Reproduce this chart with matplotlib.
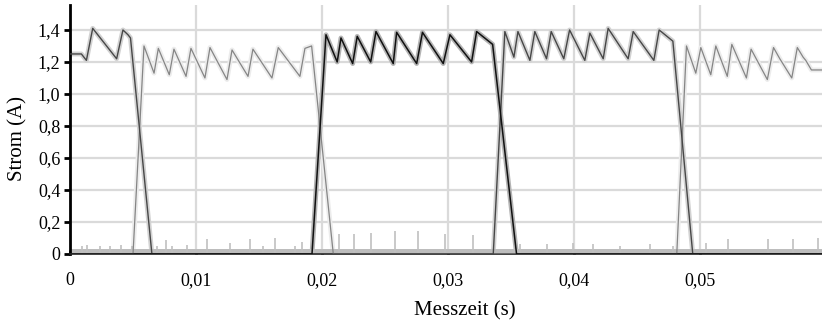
import numpy as np
import matplotlib
matplotlib.use('Agg')
import matplotlib.pyplot as plt

# phase A (dark grey): active 0..0.0065 and 0.0336..0.0494
a_t = [0, 0.0009, 0.0013, 0.0018, 0.0037, 0.0042, 0.0046, 0.0048, 0.0065,
       0.0336, 0.03452, 0.03524, 0.03556, 0.03651, 0.0369, 0.03783, 0.0382,
       0.0392, 0.03966, 0.04087, 0.04127, 0.04233, 0.04272, 0.04431, 0.04471,
       0.04635, 0.04677, 0.04786, 0.04944, 0.0597]
a_v = [1.25, 1.25, 1.21, 1.41, 1.22, 1.40, 1.37, 1.35, 0.0,
       0.0, 1.39, 1.23, 1.39, 1.21, 1.39, 1.22, 1.39,
       1.22, 1.40, 1.21, 1.38, 1.22, 1.41, 1.22, 1.39,
       1.21, 1.40, 1.33, 0.0, 0.0]

# phase B (mid grey): active 0.005..0.0209 and 0.0482..end
b_t = [0, 0.0050, 0.00587, 0.00667, 0.00701, 0.00788, 0.00825, 0.00921,
       0.0096, 0.01071, 0.01111, 0.01246, 0.01286, 0.01413, 0.01452, 0.01603,
       0.01653, 0.01825, 0.01865, 0.01918, 0.0209,
       0.04817, 0.04894, 0.04968, 0.05008, 0.05087, 0.05127, 0.05218, 0.05254,
       0.0537, 0.05407, 0.05536, 0.05585, 0.05635, 0.0573, 0.05774, 0.0582,
       0.05841, 0.05886, 0.0597]
b_v = [0.0, 0.0, 1.30, 1.13, 1.285, 1.12, 1.28, 1.11,
       1.285, 1.10, 1.29, 1.09, 1.275, 1.11, 1.28, 1.10,
       1.29, 1.11, 1.285, 1.30, 0.0,
       0.0, 1.30, 1.13, 1.29, 1.12, 1.30, 1.11, 1.31,
       1.10, 1.28, 1.09, 1.29, 1.22, 1.10, 1.29, 1.23,
       1.21, 1.15, 1.15]

# phase C (black): active 0.0192..0.0355
c_t = [0, 0.01921, 0.02032, 0.02121, 0.02151, 0.02244, 0.0228, 0.02387,
       0.02429, 0.02566, 0.02593, 0.02752, 0.02798, 0.02963, 0.03016, 0.03188,
       0.03228, 0.03355, 0.03545, 0.0597]
c_v = [0.0, 0.0, 1.37, 1.20, 1.35, 1.19, 1.36, 1.20,
       1.39, 1.19, 1.385, 1.19, 1.385, 1.19, 1.37, 1.20,
       1.39, 1.31, 0.0, 0.0]

# switching spikes in the idle phases
spike_t = [0.00093, 0.00137, 0.00238, 0.00317, 0.00402, 0.0049, 0.00688, 0.0076,
           0.00807, 0.00926, 0.01085, 0.0127, 0.01429, 0.01534, 0.01627, 0.01786,
           0.01839, 0.02137, 0.02254, 0.02387, 0.02579, 0.02764, 0.02976, 0.03196,
           0.03571, 0.03783, 0.03995, 0.04153, 0.04365, 0.04603, 0.04788, 0.05053,
           0.05225, 0.05542, 0.0574, 0.05939]
spike_v = [0.05, 0.055, 0.05, 0.05, 0.055, 0.05, 0.05, 0.0875,
           0.05, 0.055, 0.095, 0.07, 0.095, 0.05, 0.1, 0.05,
           0.077, 0.125, 0.125, 0.13, 0.146, 0.146, 0.125, 0.12,
           0.06, 0.06, 0.07, 0.06, 0.05, 0.06, 0.05, 0.07,
           0.095, 0.095, 0.095, 0.1]
idle_level = 0.03

x_ticks = [0, 0.01, 0.02, 0.03, 0.04, 0.05]
x_labels = ['0', '0,01', '0,02', '0,03', '0,04', '0,05']
y_ticks = [0, 0.2, 0.4, 0.6, 0.8, 1.0, 1.2, 1.4]
y_labels = ['0', '0,2', '0,4', '0,6', '0,8', '1,0', '1,2', '1,4']

plt.rcParams['font.family'] = ['Liberation Serif', 'DejaVu Serif']

fig = plt.figure(figsize=(8.22, 3.22), dpi=100)
ax = fig.add_axes([0.0852, 0.2112, 0.9148, 0.7733])

# raw signal bands
ax.plot(b_t, b_v, color='#ececec', lw=3.5, zorder=2)
ax.plot(a_t, a_v, color='#d2d2d2', lw=3.5, zorder=2)
ax.plot(c_t, c_v, color='#b4b4b4', lw=3.5, zorder=2)

# noise floor
ax.fill_between([0, 0.0597], 0, idle_level, color='#bdbdbd', lw=0, zorder=2.5)
ax.vlines(spike_t, 0, spike_v, color='#c0c0c0', lw=1.2, zorder=2.5)

# smoothed
ax.plot(b_t, b_v, color='#858585', lw=0.9, zorder=3)
ax.plot(a_t, a_v, color='#474747', lw=1.0, zorder=4)
ax.plot(c_t, c_v, color='#111111', lw=1.1, zorder=5)

ax.set_xlim(0, 0.0597)
ax.set_ylim(0, 1.556)
ax.set_xticks(x_ticks)
ax.set_xticklabels(x_labels)
ax.set_yticks(y_ticks)
ax.set_yticklabels(y_labels)

ax.grid(True, color='#dadada', lw=1.6, zorder=0)
ax.set_axisbelow(True)
for s in ['top', 'right']:
    ax.spines[s].set_visible(False)
ax.spines['left'].set_linewidth(2)
ax.spines['bottom'].set_linewidth(1.2)
ax.spines['bottom'].set_color('#222222')

ax.tick_params(axis='y', direction='out', length=4, width=2, pad=3, labelsize=13)
ax.tick_params(axis='x', direction='in', length=3, width=2, pad=13, labelsize=13)

ax.set_xlabel('Messzeit (s)', fontsize=15)
ax.set_ylabel('Strom (A)', fontsize=15)
ax.xaxis.set_label_coords(0.525, -0.19)
ax.yaxis.set_label_coords(-0.057, 0.462)

fig.savefig('out.png', dpi=100)
